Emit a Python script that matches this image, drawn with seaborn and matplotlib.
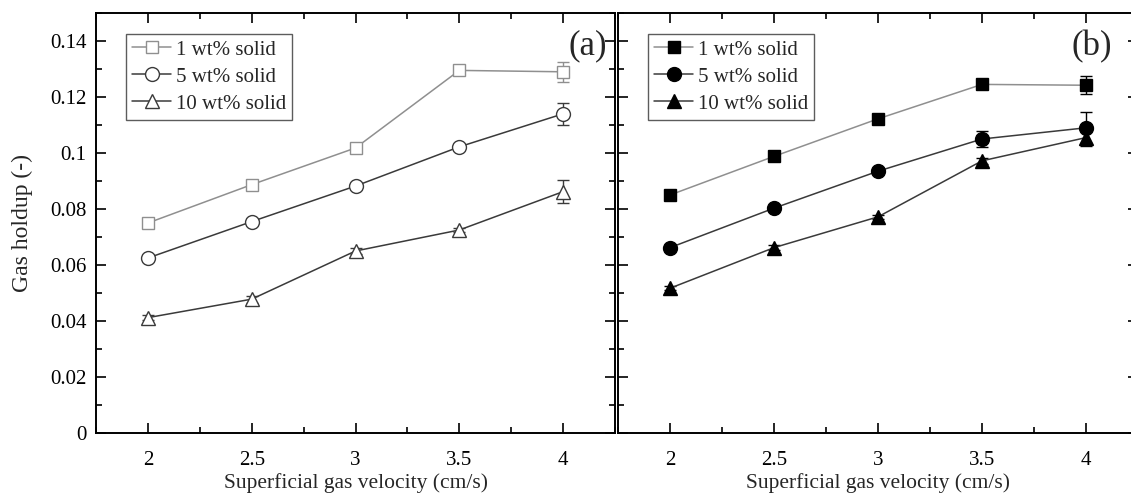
"""
Gas holdup vs superficial gas velocity for two slurry systems, panels (a) and (b).
"""

import numpy as np
import matplotlib
matplotlib.use("Agg")
import matplotlib.pyplot as plt
import seaborn as sns
from matplotlib.ticker import MultipleLocator

velocity = [2.0, 2.5, 3.0, 3.5, 4.0]
velocity_labels = ["2", "2.5", "3", "3.5", "4"]
holdup_ticks = [0, 0.02, 0.04, 0.06, 0.08, 0.10, 0.12, 0.14]
holdup_labels = ["0", "0.02", "0.04", "0.06", "0.08", "0.1", "0.12", "0.14"]
series_labels = ["1 wt% solid", "5 wt% solid", "10 wt% solid"]

# panel (a)
holdup_a_1 = [0.0750, 0.0887, 0.1018, 0.1295, 0.1290]
holdup_a_5 = [0.0625, 0.0755, 0.0882, 0.1022, 0.1140]
holdup_a_10 = [0.0412, 0.0478, 0.0650, 0.0725, 0.0862]
err_a_1 = [0.0010, 0.0012, 0.0012, 0.0012, 0.0035]
err_a_5 = [0.0012, 0.0010, 0.0010, 0.0008, 0.0040]
err_a_10 = [0.0010, 0.0012, 0.0010, 0.0008, 0.0040]

# panel (b)
holdup_b_1 = [0.0850, 0.0988, 0.1122, 0.1245, 0.1242]
holdup_b_5 = [0.0662, 0.0803, 0.0935, 0.1050, 0.1090]
holdup_b_10 = [0.0517, 0.0662, 0.0772, 0.0972, 0.1055]
err_b_1 = [0.0008, 0.0008, 0.0008, 0.0010, 0.0032]
err_b_5 = [0.0008, 0.0008, 0.0008, 0.0030, 0.0055]
err_b_10 = [0.0008, 0.0008, 0.0008, 0.0010, 0.0030]

markers = ["s", "o", "^"]
line_colors = ["#8f8f8f", "#3a3a3a", "#3a3a3a"]

sns.set_theme(style="ticks")
plt.rcParams["font.family"] = ["Liberation Serif", "DejaVu Serif"]

FS = 15

fig = plt.figure(figsize=(11.31, 4.94), dpi=100)
ax1 = fig.add_axes([96 / 1131, 61 / 494, 519 / 1131, 420 / 494])
ax2 = fig.add_axes([618 / 1131, 61 / 494, 520 / 1131, 420 / 494])


def draw_panel(ax, ys, errs, filled, tag, tag_x):
    for i, (y, e) in enumerate(zip(ys, errs)):
        face = "black" if filled else "white"
        edge = "black" if filled else line_colors[i]
        ax.errorbar(velocity, y, yerr=e, fmt="none", ecolor=edge,
                    elinewidth=1.0, capsize=4, capthick=1.0, zorder=2)
        sns.lineplot(x=velocity, y=y, ax=ax, color=line_colors[i],
                     linewidth=1.1, marker=markers[i],
                     markersize=10 if markers[i] != "s" else 9,
                     markerfacecolor=face, markeredgecolor=edge,
                     markeredgewidth=1.0, label=series_labels[i], zorder=3)

    ax.set_xlim(1.75, 4.25)
    ax.set_ylim(0, 0.15)
    ax.set_xticks(velocity)
    ax.set_xticklabels(velocity_labels)
    ax.set_yticks(holdup_ticks)
    ax.xaxis.set_minor_locator(MultipleLocator(0.25))
    ax.yaxis.set_minor_locator(MultipleLocator(0.01))
    ax.tick_params(which="both", direction="in", top=True, right=True,
                   labelsize=FS, colors="black", width=1.2)
    ax.tick_params(which="major", length=7, pad=7)
    ax.tick_params(axis="x", which="major", pad=13)
    ax.tick_params(which="minor", length=4)
    for sp in ax.spines.values():
        sp.set_linewidth(1.4)
        sp.set_color("black")
    ax.set_xlabel("Superficial gas velocity (cm/s)", fontsize=FS + 0.5,
                  labelpad=2)
    ax.set_ylabel("")
    ax.text(tag_x, 0.96, tag, transform=ax.transAxes, ha="right", va="top",
            fontsize=25)

    leg = ax.legend(loc="upper left", bbox_to_anchor=(0.045, 0.965),
                    fontsize=FS, frameon=True, fancybox=False,
                    handlelength=1.9, handletextpad=0.2, borderpad=0.3,
                    labelspacing=0.35, borderaxespad=0.3)
    leg.get_frame().set_edgecolor("#333333")
    leg.get_frame().set_linewidth(1.0)


draw_panel(ax1, [holdup_a_1, holdup_a_5, holdup_a_10],
           [err_a_1, err_a_5, err_a_10], filled=False, tag="(a)",
           tag_x=0.985)
draw_panel(ax2, [holdup_b_1, holdup_b_5, holdup_b_10],
           [err_b_1, err_b_5, err_b_10], filled=True, tag="(b)",
           tag_x=0.95)

ax1.set_yticklabels(holdup_labels)
ax1.set_ylabel("Gas holdup (-)", fontsize=FS + 2, labelpad=12)
ax2.tick_params(labelleft=False)

fig.savefig("out.png", dpi=100)
plt.close(fig)
